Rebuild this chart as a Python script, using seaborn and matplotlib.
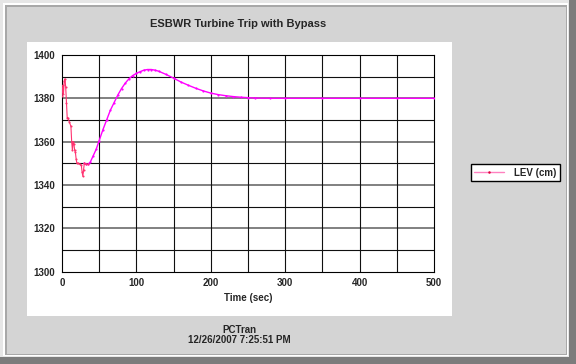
import matplotlib
matplotlib.use("Agg")
import matplotlib.pyplot as plt
from matplotlib.patches import Rectangle
from matplotlib.lines import Line2D
import seaborn as sns
import pandas as pd

# data
time_sec = [0, 1, 2, 3, 4, 5, 6, 7, 8, 10, 12, 13, 14, 15, 16, 17, 18, 19, 20,
            22, 24, 26, 27, 28, 29, 30, 32, 35, 38, 42, 46, 50, 55, 60, 65, 70,
            75, 80, 85, 90, 95, 100, 105, 110, 115, 120, 125, 130, 140, 150, 160,
            170, 180, 190, 200, 210, 220, 230, 240, 250, 260, 280, 300, 350, 400,
            450, 500]
lev_cm = [1381, 1386, 1382, 1388, 1389, 1385, 1378, 1371, 1371, 1369, 1367, 1360,
          1356, 1360, 1359, 1356, 1355, 1352, 1350, 1350, 1349.5, 1349, 1346, 1344,
          1347, 1350, 1349.5, 1349.5, 1350.5, 1353.5, 1356.5, 1360.5, 1365.5, 1370,
          1374.5, 1378, 1381.5, 1384.5, 1387, 1389, 1390.5, 1391.5, 1392.3, 1393,
          1393.3, 1393.3, 1393, 1392.5, 1391, 1389.3, 1387.5, 1386, 1384.6, 1383.4,
          1382.4, 1381.7, 1381.2, 1380.8, 1380.5, 1380.3, 1380.1, 1380, 1380, 1380,
          1380, 1380, 1380]
x_ticks = [0, 100, 200, 300, 400, 500]
y_ticks = [1300, 1320, 1340, 1360, 1380, 1400]

title = "ESBWR Turbine Trip with Bypass"
series_name = "LEV (cm)"
footer = "PCTran\n12/26/2007 7:25:51 PM"

df = pd.DataFrame({"t": time_sec, "lev": lev_cm})
early = df[df.t <= 35]
late = df[df.t >= 30]

sns.set_style("white")
plt.rcParams['font.family'] = ['Liberation Sans', 'DejaVu Sans']

W, H = 576, 364
fig = plt.figure(figsize=(W / 100, H / 100), dpi=100)
fig.patch.set_facecolor("#d4d4d4")

def px_rect(x0, y0, x1, y1, z, **kw):
    fig.patches.append(Rectangle((x0 / W, 1 - y1 / H), (x1 - x0) / W, (y1 - y0) / H,
                                 transform=fig.transFigure, figure=fig,
                                 zorder=z, **kw))

# window bevel
px_rect(0, 0, W, H, -10, facecolor="#e6e6e6", edgecolor="none")
px_rect(569, 0, W, H, -9, facecolor="#7c7c7c", edgecolor="none")
px_rect(0, 357, W, H, -9, facecolor="#7c7c7c", edgecolor="none")
px_rect(3, 3, 568, 356, -8, facecolor="#ffffff", edgecolor="none")
px_rect(5, 5, 567, 355, -7, facecolor="#a8a8a8", edgecolor="none")
px_rect(7, 7, 566, 354, -6, facecolor="#d4d4d4", edgecolor="none")
# white chart panel
px_rect(27, 42, 452, 316, -5, facecolor="white", edgecolor="none")

ax = fig.add_axes([62 / W, 1 - 271.5 / H, (434 - 62) / W, (271.5 - 55) / H])
ax.set_facecolor("white")

sns.lineplot(data=late, x="t", y="lev", ax=ax, color="#ff00ff", lw=1.0,
             marker="o", markersize=1.6, markeredgewidth=0, zorder=4)
sns.lineplot(data=early, x="t", y="lev", ax=ax, color="#ff3370", lw=0.8,
             marker="o", markersize=1.5, markeredgewidth=0, zorder=5)

ax.set_xlim(0, 500)
ax.set_ylim(1300, 1400)
ax.set_xticks(x_ticks)
ax.set_yticks(y_ticks)
ax.set_xticks(range(0, 501, 50), minor=True)
ax.set_yticks(range(1300, 1401, 10), minor=True)

# grid: minor lines black, major horizontal lines grey and heavier
for v in range(1310, 1400, 20):
    ax.axhline(v, color="#101010", lw=0.8, zorder=1)
for v in y_ticks[1:-1]:
    ax.axhline(v, color="#808080", lw=1.4, zorder=1)
for v in range(50, 500, 50):
    ax.axvline(v, color="#101010", lw=0.8, zorder=1)

for s in ax.spines.values():
    s.set_visible(True)
    s.set_color("black")
    s.set_linewidth(0.8)

ax.tick_params(axis="both", which="both", direction="out", length=3, width=0.8,
               color="black", labelsize=7, pad=2)
for lab in ax.get_xticklabels() + ax.get_yticklabels():
    lab.set_fontweight("bold")

ax.set_xlabel("Time (sec)", fontsize=7, fontweight="bold", labelpad=3)
ax.set_ylabel("")

fig.text(238 / W, 1 - 24 / H, title, ha="center", va="center", fontsize=8,
         fontweight="bold")
fig.text(239 / W, 1 - 335 / H, footer, ha="center", va="center", fontsize=7,
         fontweight="bold", linespacing=1.0)

handle = Line2D([0], [0], color="#ff80c0", lw=1.0, marker="o", markersize=1.8,
                markerfacecolor="#e0003a", markeredgewidth=0)
leg = fig.legend([handle], [series_name], loc="center left",
                 bbox_to_anchor=(471 / W, 1 - 172.5 / H), frameon=True,
                 fancybox=False, prop={"size": 7, "weight": "bold"},
                 handlelength=3.0, handletextpad=1.1, borderpad=0.35,
                 borderaxespad=0)
leg.get_frame().set_edgecolor("black")
leg.get_frame().set_linewidth(1.0)
leg.get_frame().set_facecolor("white")
leg.get_frame().set_alpha(1)

fig.savefig("out.png", dpi=100, facecolor=fig.get_facecolor())
